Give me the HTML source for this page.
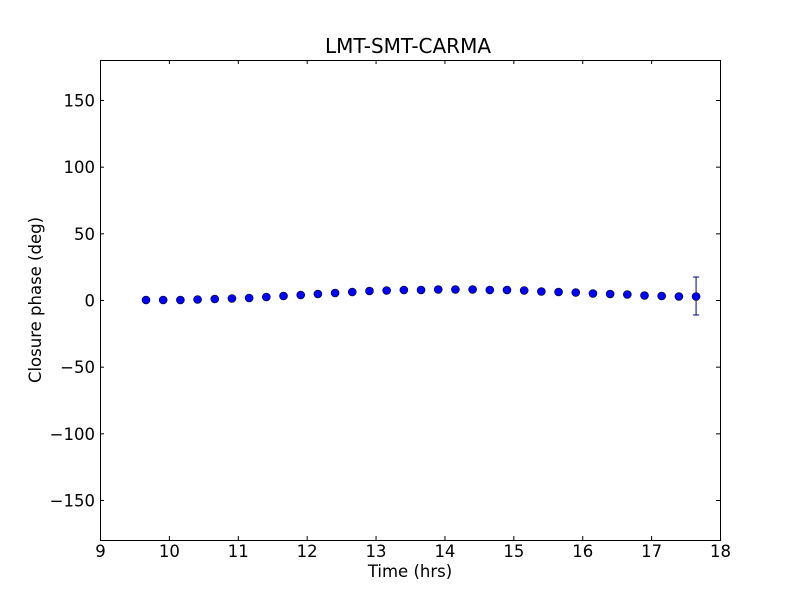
<!DOCTYPE html>
<html><head><style>body{margin:0;background:#fff}svg{display:block}text{font-family:"DejaVu Sans","Liberation Sans",sans-serif;fill:#000}</style></head>
<body>
<svg width="800" height="600" viewBox="0 0 800 600" xmlns="http://www.w3.org/2000/svg">
<rect x="0" y="0" width="800" height="600" fill="#fff"/>
<g id="pts"></g>
<rect x="100.5" y="60.5" width="620" height="480" fill="none" stroke="#000" stroke-width="1"/>
<g stroke="#000" stroke-width="1" id="ticks"></g>
<g font-size="16.5" id="labels"></g>
<text x="408" y="53" font-size="20" text-anchor="middle">LMT-SMT-CARMA</text>
<text x="410" y="577" font-size="16.5" text-anchor="middle">Time (hrs)</text>
<text transform="translate(41,300) rotate(-90)" font-size="16.5" text-anchor="middle">Closure phase (deg)</text>
<script>
var ns="http://www.w3.org/2000/svg";
function el(p,t,a,txt){var e=document.createElementNS(ns,t);for(var k in a)e.setAttribute(k,a[k]);if(txt!==undefined)e.textContent=txt;p.appendChild(e);return e;}
var tk=document.getElementById('ticks'),lb=document.getElementById('labels');
for(var i=9;i<=18;i++){var x=100.5+(i-9)*620/9;
el(tk,'line',{x1:x,y1:540,x2:x,y2:536});el(tk,'line',{x1:x,y1:60,x2:x,y2:64});
el(lb,'text',{x:x,y:557,'text-anchor':'middle'},String(i));}
for(var v=-150;v<=150;v+=50){var y=300.5-v*480/360;
el(tk,'line',{x1:100,y1:y,x2:104,y2:y});el(tk,'line',{x1:720,y1:y,x2:716,y2:y});
el(lb,'text',{x:95,y:y+6,'text-anchor':'end'},(v<0?'\u2212':'')+Math.abs(v));}
var ys=[300,300,300,299.5,299,298.5,298,297,296,295,294,293,292,291,290.5,290,290,289.5,289.5,289.5,290,290,290.5,291.5,292,292.5,293.5,294,294.5,295.5,296,296.5,296.5];
var g=document.getElementById('pts');
var lx=146+32*17.19;
el(g,'line',{x1:lx,y1:277,x2:lx,y2:315,stroke:'#00008b','stroke-width':1});
el(g,'line',{x1:lx-3,y1:277,x2:lx+3,y2:277,stroke:'#00008b','stroke-width':1});
el(g,'line',{x1:lx-3,y1:315,x2:lx+3,y2:315,stroke:'#00008b','stroke-width':1});
for(var j=0;j<33;j++){el(g,'circle',{cx:146+j*17.19,cy:ys[j],r:4,fill:'#0000ff',stroke:'#000','stroke-width':0.6});}
</script>
</svg>
</body></html>
